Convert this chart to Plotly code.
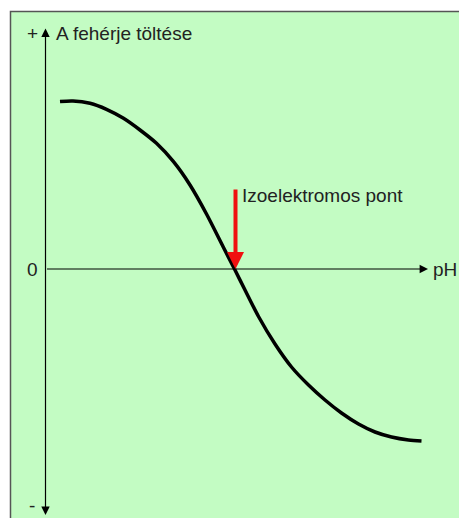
import plotly.graph_objects as go

# curve (x: pH axis units, y: charge units)
ph = [14.5, 27.5, 44.5, 61, 78, 94.5, 111, 128, 144.5, 161, 178, 189,
      199.5, 213, 229.5, 246, 263, 279.5, 296, 313, 329.5, 346, 363, 376]
charge = [167.5, 168, 165.7, 159.7, 150.7, 139, 125.7, 107.3, 84, 55, 21.5, 0,
          -21, -47.5, -75, -98, -116, -131, -144, -155, -163, -168, -171, -172]

pi_ph = 190
y_label = "A fehérje töltése"
x_label = "pH"
pi_label = "Izoelektromos pont"

W, H = 459, 518
FONT = "Liberation Sans, Arial, sans-serif"
TXT = "#222222"

fig = go.Figure()
fig.add_trace(go.Scatter(x=ph, y=charge, mode="lines",
                         line=dict(color="black", width=3.5, shape="spline", smoothing=0.8),
                         hoverinfo="skip", showlegend=False))

# green panel with grey border
fig.add_shape(type="rect", xref="paper", yref="paper", x0=10.5 / W, x1=1.02, y0=-0.02,
              y1=1 - 11.5 / H, fillcolor="#c3fcc3", line=dict(color="#555555", width=1.5),
              layer="below")

# axes with arrows
fig.add_annotation(x=0, y=-246, ax=0, ay=242, xref="x", yref="y", axref="x", ayref="y", text="",
                   showarrow=True, arrowhead=2, arrowsize=1.4, arrowwidth=1.2, arrowside="end+start",
                   startarrowhead=2, startarrowsize=1.4, arrowcolor="black", standoff=0, startstandoff=0)
fig.add_annotation(x=382.5, y=0, ax=0, ay=0, xref="x", yref="y", axref="x", ayref="y", text="",
                   showarrow=True, arrowhead=2, arrowsize=1.4, arrowwidth=1.2, arrowcolor="black", standoff=0)

# isoelectric point arrow
fig.add_annotation(x=pi_ph, y=0, ax=pi_ph, ay=81, xref="x", yref="y", axref="x", ayref="y", text="",
                   showarrow=True, arrowhead=2, arrowsize=0.85, arrowwidth=4, arrowcolor="#f01010", standoff=0)

texts = [
    ("+", -13.5, 236, "center"),
    (y_label, 8, 236, "left"),
    ("0", -13.5, 0, "center"),
    ("-", -13.5, -236, "center"),
    (x_label, 385, 0, "left"),
    (pi_label, 194, 74, "left"),
]
for t, x, y, anchor in texts:
    fig.add_annotation(x=x, y=y, xref="x", yref="y", text=t, showarrow=False, xanchor=anchor,
                       yanchor="middle", font=dict(family=FONT, size=19, color=TXT))

fig.update_xaxes(range=[-45.5, W - 45.5], visible=False, fixedrange=True)
fig.update_yaxes(range=[269 - H, 269], visible=False, fixedrange=True)
fig.update_layout(width=W, height=H, margin=dict(l=0, r=0, t=0, b=0),
                  paper_bgcolor="white", plot_bgcolor="white")

fig.write_html("out.html", config={"displayModeBar": False},
               post_script="document.body.style.margin = '0';")
